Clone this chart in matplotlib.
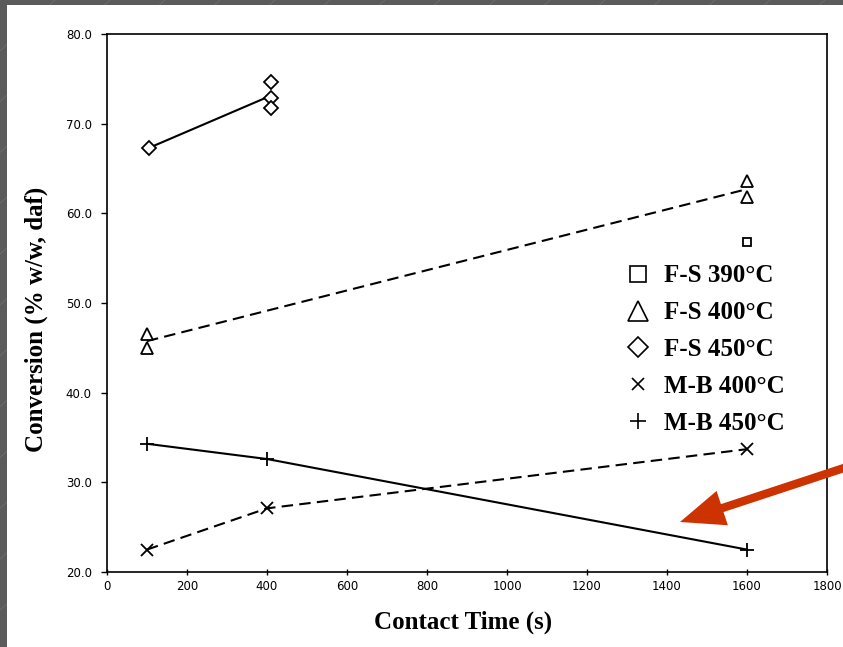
import matplotlib
import numpy as np

matplotlib.use("Agg")
import matplotlib.pyplot as plt
from matplotlib.lines import Line2D
from matplotlib.patches import Rectangle


# contact time (s) and conversion (% w/w, daf)
fs390_time = [1600]
fs390_conv = [56.8]

fs400_time = [100, 100, 1600, 1600]
fs400_conv = [46.5, 45.0, 63.6, 61.8]

fs450_time = [105, 410, 410, 410]
fs450_conv = [67.3, 74.7, 72.9, 71.8]

mb400_time = [100, 400, 1600]
mb400_conv = [22.5, 27.1, 33.7]

mb450_time = [100, 400, 1600]
mb450_conv = [34.3, 32.6, 22.5]

x_ticks = list(range(0, 1801, 200))
y_ticks = [20.0, 30.0, 40.0, 50.0, 60.0, 70.0, 80.0]

legend_labels = ["F-S 390°C", "F-S 400°C", "F-S 450°C", "M-B 400°C", "M-B 450°C"]


def mean_by_time(times, values):
    times = np.asarray(times)
    values = np.asarray(values)
    uniq = np.unique(times)
    return uniq, np.array([values[times == t].mean() for t in uniq])


W, H = 843, 647
fig = plt.figure(figsize=(W / 100, H / 100), dpi=100)
fig.patch.set_facecolor("#5b5b5b")

# slide backdrop: faint diagonal stripes behind a white panel
for start in np.arange(-700, 900, 55):
    fig.add_artist(Line2D([start / W, (start + 700) / W], [0, 1],
                          transform=fig.transFigure, color="#727272", lw=0.5, zorder=0))
fig.add_artist(Rectangle((7 / W, 0), 1, (H - 5) / H, transform=fig.transFigure,
                         facecolor="white", edgecolor="none", zorder=1))

ax = fig.add_axes([107 / W, 1 - 572 / H, (827 - 107) / W, (572 - 34) / H])
ax.set_zorder(2)

line_kw = dict(color="black", lw=1.5)
dash_kw = dict(color="black", lw=1.5, dashes=(5.5, 3))

t, c = mean_by_time(fs450_time, fs450_conv)
ax.plot(t, c, **line_kw)
t, c = mean_by_time(fs400_time, fs400_conv)
ax.plot(t, c, **dash_kw)
ax.plot(mb400_time, mb400_conv, **dash_kw)
ax.plot(mb450_time, mb450_conv, **line_kw)

mk = dict(linestyle="none", markerfacecolor="white", markeredgecolor="black",
          markeredgewidth=1.3, color="black")
ax.plot(fs390_time, fs390_conv, marker="s", markersize=6, **mk)
ax.plot(fs400_time, fs400_conv, marker="^", markersize=8, **mk)
ax.plot(fs450_time, fs450_conv, marker="D", markersize=7, **mk)
ax.plot(mb400_time, mb400_conv, marker="x", markersize=8, **mk)
ax.plot(mb450_time, mb450_conv, marker="+", markersize=10, **mk)

# legend symbols are drawn larger than the data markers
leg_mk = dict(linestyle="none", markerfacecolor="white", markeredgecolor="black",
              markeredgewidth=1.2, color="black")
handles = [
    Line2D([], [], marker="s", markersize=11, **leg_mk),
    Line2D([], [], marker="^", markersize=14, **leg_mk),
    Line2D([], [], marker="D", markersize=10, **leg_mk),
    Line2D([], [], marker="x", markersize=8, **leg_mk),
    Line2D([], [], marker="+", markersize=12, **leg_mk),
]
ax.legend(handles, legend_labels, loc="upper left", bbox_to_anchor=(613 / W, 1 - 252 / H),
          bbox_transform=fig.transFigure, frameon=False,
          prop={"family": "Liberation Serif", "size": 18, "weight": "bold"},
          handlelength=1.0, handletextpad=0.55, labelspacing=0.55, borderpad=0)

ax.set_xlim(0, 1800)
ax.set_ylim(20, 80)
ax.set_xticks(x_ticks)
ax.set_yticks(y_ticks)
ax.set_yticklabels([f"{v:.1f}" for v in y_ticks])
ax.tick_params(axis="both", labelsize=8.5, width=1.0, length=4)
ax.tick_params(axis="x", direction="inout", pad=4)
ax.tick_params(axis="y", direction="out", pad=7)
for spine in ax.spines.values():
    spine.set_linewidth(1.2)

ax.set_xlabel("Contact Time (s)", family="Liberation Serif", fontweight="bold", fontsize=18)
ax.set_ylabel("Conversion (% w/w, daf)", family="Liberation Serif", fontweight="bold", fontsize=18)
ax.xaxis.set_label_coords(0.494, -0.072)
ax.yaxis.set_label_coords(-0.082, 0.47)

# red callout arrow pointing at the M-B 450°C line
ax.annotate("", xy=(680, H - 522), xycoords="figure pixels",
            xytext=(850, H - 466), textcoords="figure pixels",
            arrowprops=dict(arrowstyle="simple,head_length=1.6,head_width=1.3,tail_width=0.3",
                            mutation_scale=20, lw=0, color="#cc3300",
                            shrinkA=0, shrinkB=0),
            zorder=5)

fig.savefig("out.png", dpi=100, facecolor=fig.get_facecolor())
